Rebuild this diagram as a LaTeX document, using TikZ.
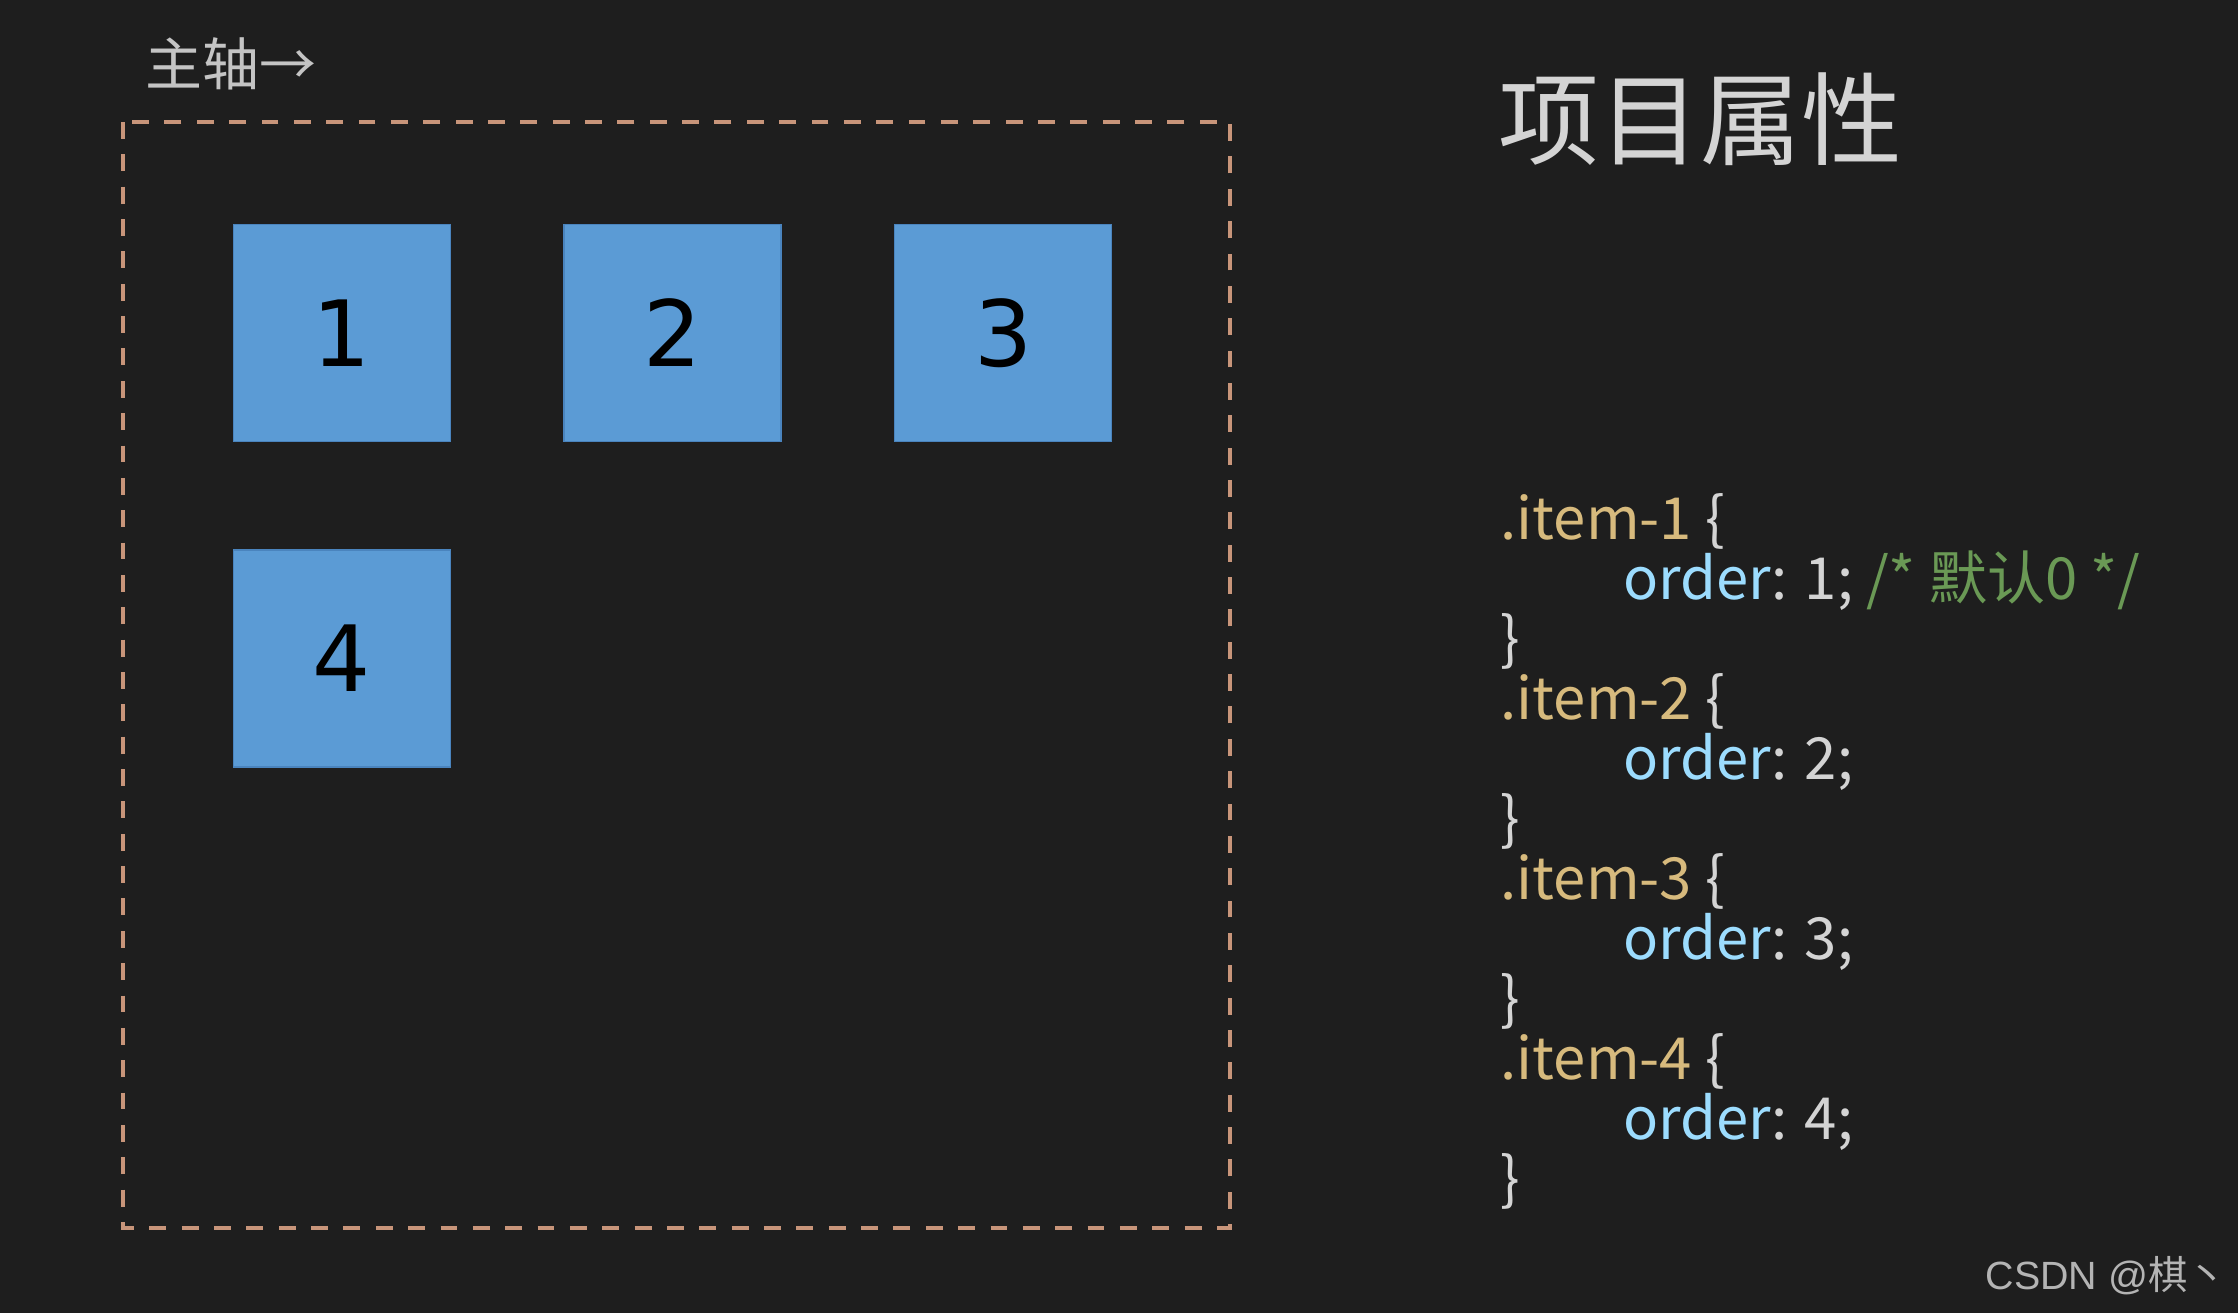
\documentclass[tikz,border=0pt]{standalone}
\usepackage{fontspec}
\setmainfont{Noto Sans CJK SC}
\newfontfamily\digitfont{DejaVu Sans}
\newfontfamily\markfont{Liberation Sans}
\usetikzlibrary{positioning}
\definecolor{bgdark}{HTML}{1E1E1E}
\definecolor{boxblue}{HTML}{5B9BD5}
\definecolor{boxedge}{HTML}{4A84BE}
\definecolor{frametan}{HTML}{C8957A}
\definecolor{selgold}{HTML}{D7BA7D}
\definecolor{propblue}{HTML}{9CDCFE}
\definecolor{codegray}{HTML}{D4D4D4}
\definecolor{cmtgreen}{HTML}{6A9955}
\definecolor{labelgray}{HTML}{C4C4C4}
\definecolor{markgray}{HTML}{B4B4B4}

\begin{document}
\begin{tikzpicture}[x=0.01cm,y=-0.01cm,
    flexbox/.style={fill=boxblue,draw=boxedge,line width=0.4pt,minimum size=2.17cm,inner sep=0pt,
      font=\digitfont\fontsize{26}{30}\selectfont,text=black},
    codeline/.style={anchor=base west,inner sep=0pt,text=codegray,font=\fontsize{16.5}{20}\selectfont},
    framedash/.style={frametan,line width=1pt,dash pattern=on 4.8pt off 4.4pt}]
  % background and page size
  \fill[bgdark] (0,0) rectangle (2238,1313);

  % container
  \draw[framedash] (123,122) rectangle (1230,1228);
  \node[anchor=base west,inner sep=0pt,text=labelgray,font=\fontsize{16.2}{18}\selectfont] (axis) at (145,86) {主轴→};

  % items
  \node[flexbox] (b1) at (342,333) {1};
  \node[flexbox,right=1.12cm of b1] (b2) {2};
  \node[flexbox,right=1.12cm of b2] (b3) {3};
  \node[flexbox,below=1.07cm of b1] (b4) {4};

  % title
  \node[anchor=base west,inner sep=0pt,text=codegray,font=\fontsize{28.7}{32}\selectfont] (title) at (1498,158) {项目属性};

  % css
  \node[codeline] (l1) at (1500,540) {\textcolor{selgold}{.item-1} \{};
  \node[codeline] (l2) at (1623,600) {\textcolor{propblue}{order}: 1; \textcolor{cmtgreen}{/* 默认0 */}};
  \node[codeline] (l3) at (1500,660) {\}};
  \node[codeline] (l4) at (1500,720) {\textcolor{selgold}{.item-2} \{};
  \node[codeline] (l5) at (1623,780) {\textcolor{propblue}{order}: 2;};
  \node[codeline] (l6) at (1500,840) {\}};
  \node[codeline] (l7) at (1500,900) {\textcolor{selgold}{.item-3} \{};
  \node[codeline] (l8) at (1623,960) {\textcolor{propblue}{order}: 3;};
  \node[codeline] (l9) at (1500,1020) {\}};
  \node[codeline] (l10) at (1500,1080) {\textcolor{selgold}{.item-4} \{};
  \node[codeline] (l11) at (1623,1140) {\textcolor{propblue}{order}: 4;};
  \node[codeline] (l12) at (1500,1200) {\}};

  % watermark
  \node[anchor=base west,inner sep=0pt,text=markgray,font=\fontsize{11.2}{13}\selectfont] (mark) at (1985,1290) {{\markfont CSDN @}棋丶};
\end{tikzpicture}
\end{document}
